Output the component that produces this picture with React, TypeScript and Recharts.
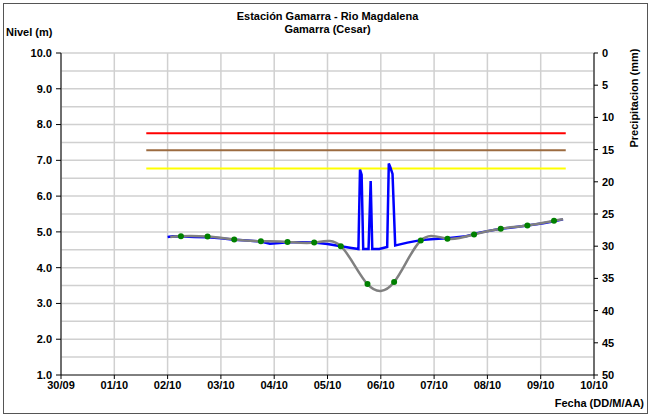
import React from 'react';
import {
  ComposedChart,
  Line,
  XAxis,
  YAxis,
  CartesianGrid,
  ReferenceLine,
} from 'recharts';

// x values are days counted from 30/09 00:00
const dayLabels = ['30/09', '01/10', '02/10', '03/10', '04/10', '05/10', '06/10', '07/10', '08/10', '09/10', '10/10'];
const dayTicks = [0, 1, 2, 3, 4, 5, 6, 7, 8, 9, 10];

const nivelTicks = [1, 2, 3, 4, 5, 6, 7, 8, 9, 10];
const gridLevels = [1.5, 2, 2.5, 3, 3.5, 4, 4.5, 5, 5.5, 6, 6.5, 7, 7.5, 8, 8.5, 9, 9.5, 10];
const precipTicks = [0, 5, 10, 15, 20, 25, 30, 35, 40, 45, 50];

// observed level (blue)
const obsTimes = [2.0, 2.1, 2.3, 2.5, 2.75, 3.0, 3.25, 3.5, 3.75, 3.92, 4.1, 4.25, 4.5, 4.75, 5.0, 5.25, 5.45, 5.58,
  5.61, 5.64, 5.67, 5.77, 5.81, 5.84, 5.97, 6.12, 6.15, 6.18, 6.22, 6.27, 6.3, 6.5, 6.75, 7.0, 7.25, 7.6, 7.85,
  8.25, 8.5, 8.75, 9.05, 9.25, 9.42];
const obsLevels = [4.86, 4.88, 4.87, 4.86, 4.85, 4.82, 4.78, 4.76, 4.73, 4.67, 4.69, 4.71, 4.71, 4.7, 4.66, 4.6, 4.55, 4.52,
  6.74, 6.6, 4.52, 4.52, 6.42, 4.52, 4.52, 4.58, 6.91, 6.8, 6.62, 4.62, 4.63, 4.7, 4.77, 4.8, 4.82, 4.88, 4.98,
  5.09, 5.13, 5.18, 5.24, 5.3, 5.35];

// daily level (gray curve, green markers)
const dailyTimes = [2.25, 2.75, 3.25, 3.75, 4.25, 4.75, 5.25, 5.75, 6.25, 6.75, 7.25, 7.75, 8.25, 8.75, 9.25];
const dailyLevels = [4.88, 4.87, 4.79, 4.74, 4.72, 4.7, 4.6, 3.54, 3.6, 4.76, 4.81, 4.93, 5.09, 5.18, 5.31];
const curveStart = { t: 2.05, nivel: 4.86 };
const curveEnd = { t: 9.42, nivel: 5.35 };

// alert thresholds
const alertStart = 1.6;
const alertEnd = 9.47;
const rojo = 7.76;
const naranja = 7.28;
const amarillo = 6.77;

const obsData = obsTimes.map((t, i) => ({ t, nivel: obsLevels[i] }));
const dailyData = dailyTimes.map((t, i) => ({ t, nivel: dailyLevels[i] }));
const curveData = [curveStart, ...dailyData, curveEnd];
const lineOf = (v: number) => [{ t: alertStart, nivel: v }, { t: alertEnd, nivel: v }];

const font = '"Liberation Sans", Arial, sans-serif';
const tickStyle = { fontSize: 11, fontWeight: 700, fill: '#000', fontFamily: font };

export default function App() {
  return (
    <div style={{ position: 'absolute', left: 0, top: 0, width: 650, height: 416, background: '#fff', fontFamily: font }}>
      <div style={{ position: 'absolute', left: 3, top: 3, width: 643, height: 409, border: '1px solid #555' }} />
      <ComposedChart width={650} height={416} margin={{ top: 53, right: 0, bottom: 0, left: 0 }}>
        <CartesianGrid horizontal={false} stroke="#d0d0d0" strokeWidth={1.5} />
        {gridLevels.map((v) => (
          <ReferenceLine key={v} yAxisId="nivel" y={v} stroke="#d0d0d0" strokeWidth={1.5} />
        ))}
        <XAxis
          dataKey="t"
          type="number"
          domain={[0, 10]}
          ticks={dayTicks}
          tickFormatter={(v: number) => dayLabels[v]}
          height={41}
          stroke="#000"
          tickSize={4}
          tickMargin={2}
          tick={tickStyle}
          allowDataOverflow
        />
        <YAxis
          yAxisId="nivel"
          type="number"
          domain={[1, 10]}
          ticks={nivelTicks}
          tickFormatter={(v: number) => v.toFixed(1)}
          width={61}
          stroke="#000"
          tickSize={5}
          tickMargin={4}
          tick={tickStyle}
          allowDataOverflow
        />
        <YAxis
          yAxisId="precip"
          orientation="right"
          type="number"
          domain={[0, 50]}
          reversed
          ticks={precipTicks}
          width={56}
          stroke="#000"
          tickSize={4}
          tickMargin={4}
          tick={{ ...tickStyle, textAnchor: 'start' }}
          allowDataOverflow
        />
        <Line yAxisId="nivel" data={lineOf(rojo)} dataKey="nivel" stroke="#ff0000" strokeWidth={2} dot={false} isAnimationActive={false} />
        <Line yAxisId="nivel" data={lineOf(naranja)} dataKey="nivel" stroke="#9c6b40" strokeWidth={2} dot={false} isAnimationActive={false} />
        <Line yAxisId="nivel" data={lineOf(amarillo)} dataKey="nivel" stroke="#ffff00" strokeWidth={2} dot={false} isAnimationActive={false} />
        <Line yAxisId="nivel" data={obsData} dataKey="nivel" type="linear" stroke="#0000ff" strokeWidth={2.5} dot={false} isAnimationActive={false} />
        <Line yAxisId="nivel" data={curveData} dataKey="nivel" type="natural" stroke="#808080" strokeWidth={2.5} dot={false} isAnimationActive={false} />
        <Line yAxisId="nivel" data={dailyData} dataKey="nivel" stroke="none" dot={{ r: 3, fill: '#008000', stroke: 'none' }} isAnimationActive={false} />
      </ComposedChart>
      <div style={{ position: 'absolute', left: 61, width: 533, top: 10, textAlign: 'center', fontSize: 11, fontWeight: 700, lineHeight: '13px' }}>
        Estación Gamarra - Rio Magdalena<br />Gamarra (Cesar)
      </div>
      <div style={{ position: 'absolute', left: 6, top: 26, fontSize: 11, fontWeight: 700 }}>Nivel (m)</div>
      <div style={{ position: 'absolute', right: 6, top: 397, fontSize: 11, fontWeight: 700 }}>Fecha (DD/M/AA)</div>
      <div
        style={{
          position: 'absolute',
          left: 634,
          top: 98,
          fontSize: 11,
          fontWeight: 700,
          whiteSpace: 'nowrap',
          transform: 'translate(-50%, -50%) rotate(-90deg)',
        }}
      >
        Precipitacion (mm)
      </div>
    </div>
  );
}
